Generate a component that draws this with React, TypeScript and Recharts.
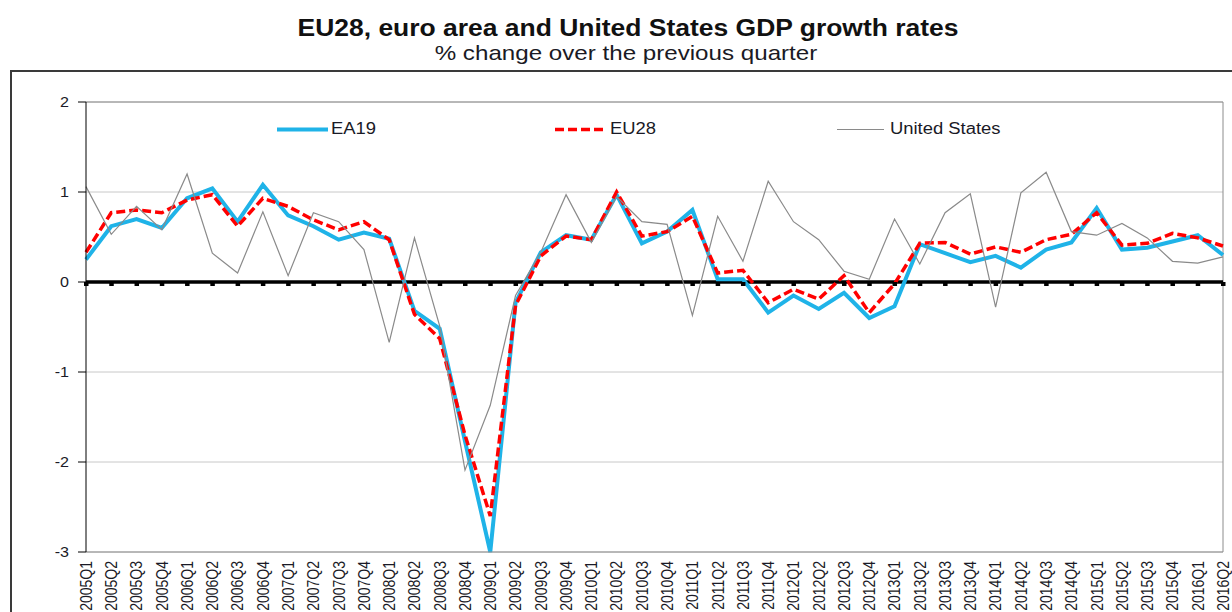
import {
  LineChart, Line, XAxis, YAxis, CartesianGrid, ReferenceLine, ReferenceDot,
} from 'recharts'

const QUARTERS = [
  '2005Q1', '2005Q2', '2005Q3', '2005Q4', '2006Q1', '2006Q2', '2006Q3', '2006Q4',
  '2007Q1', '2007Q2', '2007Q3', '2007Q4', '2008Q1', '2008Q2', '2008Q3', '2008Q4',
  '2009Q1', '2009Q2', '2009Q3', '2009Q4', '2010Q1', '2010Q2', '2010Q3', '2010Q4',
  '2011Q1', '2011Q2', '2011Q3', '2011Q4', '2012Q1', '2012Q2', '2012Q3', '2012Q4',
  '2013Q1', '2013Q2', '2013Q3', '2013Q4', '2014Q1', '2014Q2', '2014Q3', '2014Q4',
  '2015Q1', '2015Q2', '2015Q3', '2015Q4', '2016Q1', '2016Q2',
]

const EA19 = [
  0.25, 0.62, 0.70, 0.60, 0.93, 1.04, 0.67, 1.08, 0.74, 0.62, 0.47, 0.55,
  0.48, -0.32, -0.52, -1.77, -3.0, -0.23, 0.33, 0.52, 0.47, 0.97, 0.43, 0.56,
  0.80, 0.03, 0.03, -0.34, -0.15, -0.30, -0.12, -0.40, -0.27, 0.42, 0.32, 0.22,
  0.29, 0.16, 0.36, 0.44, 0.82, 0.36, 0.38, 0.45, 0.52, 0.30,
]

const EU28 = [
  0.33, 0.77, 0.80, 0.77, 0.91, 0.97, 0.62, 0.93, 0.84, 0.69, 0.58, 0.67,
  0.47, -0.36, -0.63, -1.70, -2.6, -0.26, 0.29, 0.51, 0.47, 1.0, 0.51, 0.56,
  0.73, 0.10, 0.13, -0.23, -0.08, -0.19, 0.07, -0.34, -0.02, 0.43, 0.44, 0.31,
  0.39, 0.33, 0.47, 0.53, 0.77, 0.41, 0.43, 0.54, 0.49, 0.40,
]

const US = [
  1.06, 0.53, 0.84, 0.58, 1.20, 0.32, 0.10, 0.78, 0.07, 0.77, 0.67, 0.36,
  -0.67, 0.49, -0.49, -2.09, -1.37, -0.15, 0.33, 0.97, 0.44, 0.95, 0.67, 0.64,
  -0.37, 0.73, 0.23, 1.12, 0.67, 0.47, 0.12, 0.03, 0.70, 0.20, 0.77, 0.98,
  -0.28, 0.99, 1.22, 0.56, 0.52, 0.65, 0.49, 0.23, 0.21, 0.28,
]

const Y_TICKS = [-3, -2, -1, 0, 1, 2]

const C_EA = '#1fb3e8'
const C_EU = '#ff0000'
const C_US = '#8a8a8a'
const FONT = '"Liberation Sans", Arial, sans-serif'
const TEXT = '#1a1a26'

const data = QUARTERS.map((q, i) => ({ q, ea: EA19[i], eu: EU28[i], us: US[i] }))

const XTick = ({ x, y, payload }: any) => (
  <text transform={`translate(${x},${y + 9}) scale(1.2,1) rotate(-90)`} textAnchor="end" dy="0.35em"
    fontSize={14} fontFamily={FONT} fill={TEXT}>{payload.value}</text>
)

const YTick = ({ x, y, payload }: any) => (
  <text transform={`translate(${x},${y}) scale(1.15,1)`} textAnchor="end" dy="0.36em"
    fontSize={14} fontFamily={FONT} fill={TEXT}>{payload.value}</text>
)

// little black squares hanging under the zero line (Excel category ticks)
const ZeroTick = ({ cx, cy }: any) => <rect x={cx - 2} y={cy} width={4.5} height={4} fill="#000" />

const LEGEND = [
  { label: 'EA19', color: C_EA, width: 4, dash: undefined as string | undefined, left: 277, w: 51 },
  { label: 'EU28', color: C_EU, width: 3.5, dash: '9 4', left: 555, w: 52 },
  { label: 'United States', color: C_US, width: 1.2, dash: undefined, left: 837, w: 47 },
]

export default function App() {
  return (
    <div style={{ position: 'absolute', left: 0, top: 0, width: 1232, height: 612, overflow: 'hidden', background: '#fff', fontFamily: FONT }}>
      <div style={{ position: 'absolute', left: 12, top: 17, width: 1232, textAlign: 'center', fontSize: 23, lineHeight: '23px', fontWeight: 700, color: '#111', transform: 'scaleX(1.15)', transformOrigin: '616px 0' }}>
        EU28, euro area and United States GDP growth rates
      </div>
      <div style={{ position: 'absolute', left: 10, top: 42, width: 1232, textAlign: 'center', fontSize: 21, lineHeight: '21px', color: '#1a1a24', transform: 'scaleX(1.15)', transformOrigin: '616px 0' }}>
        % change over the previous quarter
      </div>
      <div style={{ position: 'absolute', left: 10, top: 70, width: 1400, height: 800, border: '2px solid #3a3a3a' }} />

      <div style={{ position: 'absolute', left: 0, top: 0 }}>
        <LineChart width={1232} height={612} data={data} margin={{ top: 102, right: 9, bottom: 0, left: 0 }}>
          <CartesianGrid vertical={false} stroke="#c8c8c8" />
          <XAxis dataKey="q" interval={0} height={60} tickLine={false} tickSize={0} tickMargin={0}
            axisLine={{ stroke: '#8c8c8c' }} tick={<XTick />} />
          <YAxis type="number" domain={[-3, 2]} ticks={Y_TICKS} width={86} tickSize={8} tickMargin={9}
            axisLine={{ stroke: '#000' }} tickLine={{ stroke: '#000' }} tick={<YTick />} />
          <ReferenceLine y={2} stroke="#8c8c8c" />
          <ReferenceLine x={QUARTERS[QUARTERS.length - 1]} stroke="#8c8c8c" />
          <ReferenceLine y={0} stroke="#000" strokeWidth={3.5} />
          {QUARTERS.map(q => (
            <ReferenceDot key={q} x={q} y={0} r={2} shape={<ZeroTick />} />
          ))}
          <Line dataKey="ea" stroke={C_EA} strokeWidth={4} dot={false} activeDot={false} isAnimationActive={false} />
          <Line dataKey="eu" stroke={C_EU} strokeWidth={3.5} strokeDasharray="9 4" dot={false} activeDot={false} isAnimationActive={false} />
          <Line dataKey="us" stroke={C_US} strokeWidth={1.2} dot={false} activeDot={false} isAnimationActive={false} />
        </LineChart>
      </div>

      {LEGEND.map(l => (
        <div key={l.label} style={{ position: 'absolute', left: l.left, top: 121, height: 16, display: 'flex', alignItems: 'center' }}>
          <svg width={l.w} height={16} style={{ display: 'block' }}>
            <line x1={0} x2={l.w} y1={8.5} y2={8.5} stroke={l.color} strokeWidth={l.width} strokeDasharray={l.dash} />
          </svg>
          <span style={{ marginLeft: l.label === 'United States' ? 6 : 3, fontSize: 16, lineHeight: '16px', color: TEXT, transform: 'scaleX(1.15)', transformOrigin: '0 0', whiteSpace: 'nowrap' }}>
            {l.label}
          </span>
        </div>
      ))}
    </div>
  )
}
